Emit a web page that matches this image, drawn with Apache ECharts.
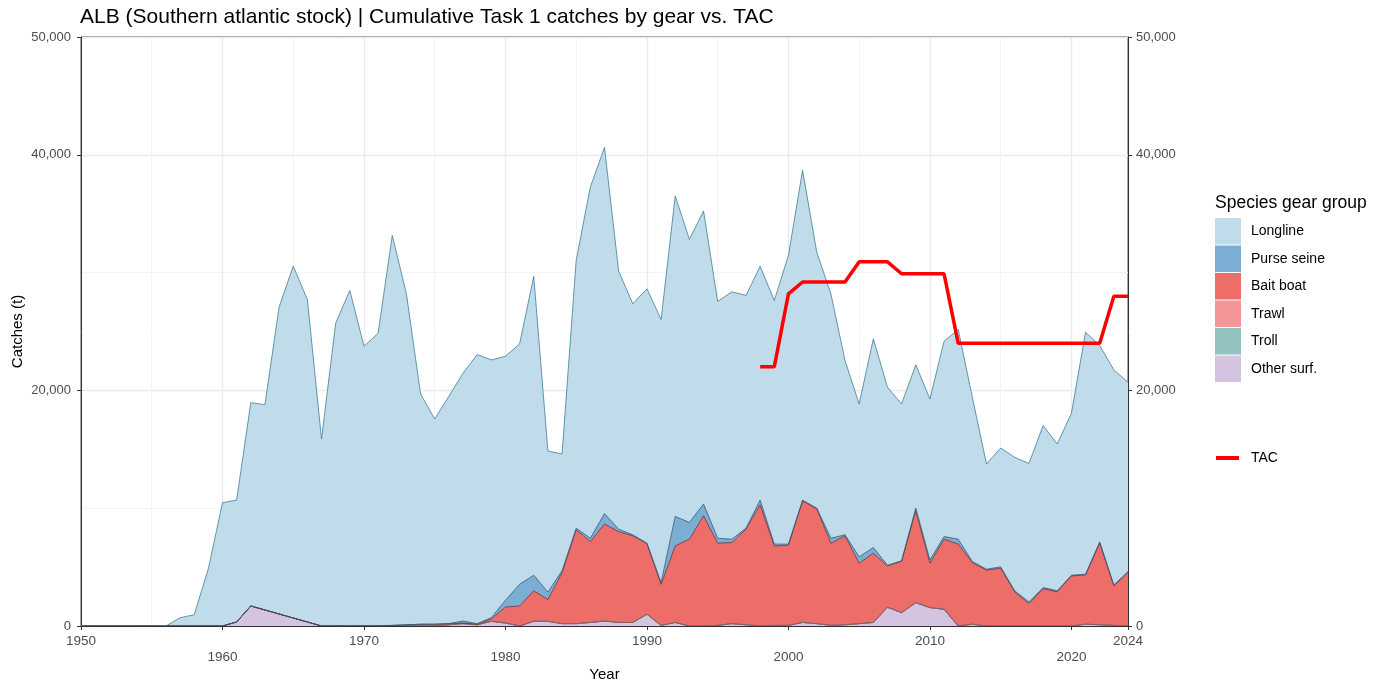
<!DOCTYPE html>
<html lang="en">
<head>
  <meta charset="UTF-8">
  <title>ALB (Southern atlantic stock) | Cumulative Task 1 catches by gear vs. TAC</title>
  <script src="https://cdn.jsdelivr.net/npm/echarts@6/dist/echarts.min.js"></script>
  <style>
    html, body { margin: 0; padding: 0; background: #fff; }
    #chart { width: 1385px; height: 692px; }
  </style>
</head>
<body>
  <div id="chart"></div>
  <script>
    // years on the x axis
    const years = [
      1950, 1951, 1952, 1953, 1954, 1955, 1956, 1957, 1958, 1959,
      1960, 1961, 1962, 1963, 1964, 1965, 1966, 1967, 1968, 1969,
      1970, 1971, 1972, 1973, 1974, 1975, 1976, 1977, 1978, 1979,
      1980, 1981, 1982, 1983, 1984, 1985, 1986, 1987, 1988, 1989,
      1990, 1991, 1992, 1993, 1994, 1995, 1996, 1997, 1998, 1999,
      2000, 2001, 2002, 2003, 2004, 2005, 2006, 2007, 2008, 2009,
      2010, 2011, 2012, 2013, 2014, 2015, 2016, 2017, 2018, 2019,
      2020, 2021, 2022, 2023, 2024
    ];

    // catches (t) by gear
    const longline = [
      0, 0, 0, 0, 0, 0, 0, 700, 960, 4850,
      10460, 10350, 17260, 17430, 26050, 29870, 27380, 15870, 25700, 28490,
      23750, 24850, 33110, 28100, 19550, 17420, 19300, 21025, 22840, 21880,
      20720, 20410, 25370, 11970, 9900, 22740, 29820, 31070, 21910, 19610,
      21600, 22340, 27200, 24030, 24880, 20100, 21000, 19760, 19840, 20680,
      24510, 28000, 21730, 20750, 14790, 12980, 17720, 15110, 13320, 12160,
      13660, 16580, 17800, 13940, 8930, 10090, 11330, 11760, 13750, 12450,
      13740, 20540, 16670, 18250, 16070
    ];
    const purseSeine = [
      0, 0, 0, 0, 0, 0, 0, 0, 0, 0,
      0, 0, 0, 0, 0, 0, 0, 0, 0, 0,
      0, 0, 0, 0, 0, 0, 0, 175, 50, 110,
      570, 1840, 1330, 630, 170, 140, 280, 900, 200, 90,
      40, 140, 2500, 1420, 1000, 420, 280, 80, 400, 150,
      90, 90, 60, 420, 90, 540, 480, 60, 30, 230,
      280, 220, 420, 80, 80, 120, 90, 140, 90, 100,
      60, 70, 110, 90, 80
    ];
    const baitBoat = [
      0, 0, 0, 0, 0, 0, 0, 0, 0, 0,
      0, 0, 0, 0, 0, 0, 0, 0, 0, 0,
      0, 0, 50, 100, 150, 150, 100, 50, 50, 200,
      1360, 1700, 2580, 1850, 4330, 7960, 6870, 8230, 7720, 7350,
      5990, 3490, 6500, 7370, 9350, 6980, 6890, 8120, 10290, 6750,
      6810, 10300, 9750, 6980, 7550, 5130, 5880, 3510, 4370, 7800,
      3770, 5950, 6950, 5240, 4740, 4900, 2890, 1900, 3170, 2900,
      4250, 4180, 6930, 3350, 4540
    ];
    const trawl = [
      0, 0, 0, 0, 0, 0, 0, 0, 0, 0,
      0, 0, 0, 0, 0, 0, 0, 0, 0, 0,
      0, 0, 0, 0, 0, 0, 0, 0, 0, 0,
      0, 0, 0, 0, 0, 0, 0, 0, 0, 0,
      0, 0, 0, 0, 0, 0, 0, 0, 0, 0,
      0, 0, 0, 0, 0, 0, 0, 0, 0, 0,
      0, 0, 0, 0, 0, 0, 0, 0, 0, 0,
      0, 0, 0, 0, 0
    ];
    const troll = [
      0, 0, 0, 0, 0, 0, 0, 0, 0, 0,
      0, 0, 0, 0, 0, 0, 0, 0, 0, 0,
      0, 0, 0, 0, 0, 0, 0, 0, 0, 0,
      0, 0, 0, 0, 0, 0, 0, 0, 0, 0,
      0, 0, 0, 0, 0, 0, 0, 0, 0, 0,
      0, 0, 0, 0, 0, 0, 0, 0, 0, 0,
      0, 0, 0, 0, 0, 0, 0, 0, 0, 0,
      0, 0, 0, 0, 0
    ];
    const otherSurf = [
      0, 0, 0, 0, 0, 0, 0, 0, 0, 0,
      0, 340, 1700, 1360, 1020, 680, 340, 0, 0, 0,
      0, 0, 0, 0, 0, 0, 100, 200, 100, 400,
      250, 0, 400, 400, 200, 200, 300, 420, 300, 300,
      1000, 50, 300, 0, 0, 50, 200, 100, 0, 50,
      50, 300, 200, 50, 100, 200, 300, 1590, 1130, 1980,
      1560, 1420, 0, 150, 0, 0, 0, 0, 0, 0,
      0, 150, 100, 50, 0
    ];

    // total allowable catch
    const tacYears = [
      1998, 1999, 2000, 2001, 2002, 2003, 2004, 2005, 2006, 2007,
      2008, 2009, 2010, 2011, 2012, 2013, 2014, 2015, 2016, 2017,
      2018, 2019, 2020, 2021, 2022, 2023, 2024
    ];
    const tacValues = [
      22000, 22000, 28200, 29200, 29200, 29200, 29200, 30915, 30915, 30915,
      29900, 29900, 29900, 29900, 24000, 24000, 24000, 24000, 24000, 24000,
      24000, 24000, 24000, 24000, 24000, 28000, 28000
    ];

    // bottom-to-top stacking order
    const gears = [
      { name: 'Other surf.', values: otherSurf, fill: '#D4C4E0', line: '#76598C' },
      { name: 'Troll', values: troll, fill: '#93C3BF', line: '#4E8580' },
      { name: 'Trawl', values: trawl, fill: '#F49698', line: '#A05556' },
      { name: 'Bait boat', values: baitBoat, fill: '#ED6E69', line: '#6E2B2E' },
      { name: 'Purse seine', values: purseSeine, fill: '#7BAED2', line: '#2A5679' },
      { name: 'Longline', values: longline, fill: '#C0DCEA', line: '#3F7D9C' }
    ];

    const font = '"Liberation Sans", Arial, sans-serif';
    const chart = echarts.init(document.getElementById('chart'));

    // labelled years: every decade plus the last year
    const isMajor = (idx, val) => (+val % 10 === 0) || (+val === 2024);

    const series = gears.map(g => ({
      name: g.name,
      type: 'line',
      stack: 'catch',
      data: g.values,
      showSymbol: false,
      symbol: 'none',
      color: g.fill,
      lineStyle: { color: g.line, width: 0.8 },
      areaStyle: { color: g.fill, opacity: 1 },
      emphasis: { disabled: true },
      z: 2
    }));

    series.push({
      name: 'TAC',
      type: 'line',
      data: tacYears.map((y, i) => [String(y), tacValues[i]]),
      showSymbol: false,
      symbol: 'none',
      color: '#FF0000',
      lineStyle: { color: '#FF0000', width: 3.5 },
      emphasis: { disabled: true },
      z: 5
    });

    const yAxisBase = {
      type: 'value',
      min: 0,
      max: 50000,
      interval: 20000,
      axisLine: { show: true, lineStyle: { color: '#333', width: 1 } },
      axisTick: { show: true, length: 4, lineStyle: { color: '#333' } },
      axisLabel: { fontFamily: font, fontSize: 13, color: '#4D4D4D', margin: 10 }
    };

    const option = {
      backgroundColor: '#ffffff',
      animation: false,
      textStyle: { fontFamily: font },
      title: {
        text: 'ALB (Southern atlantic stock) | Cumulative Task 1 catches by gear vs. TAC',
        left: 75,
        top: 2,
        textStyle: { fontFamily: font, fontSize: 21, fontWeight: 'normal', color: '#000' }
      },
      grid: {
        left: 81,
        right: 257,
        top: 37,
        bottom: 66,
        outerBoundsMode: 'none',
        show: true,
        borderColor: '#333',
        borderWidth: 1,
        backgroundColor: 'transparent'
      },
      legend: [
        {
          orient: 'vertical',
          left: 1210,
          top: 213,
          itemWidth: 26,
          itemHeight: 26.5,
          itemGap: 1,
          icon: 'rect',
          selectedMode: false,
          itemStyle: { borderWidth: 0 },
          textStyle: { fontFamily: font, fontSize: 14, color: '#000', padding: [0, 0, 0, 5] },
          data: gears.slice().reverse().map(g => ({ name: g.name, itemStyle: { color: g.fill, borderWidth: 0 } }))
        },
        {
          orient: 'vertical',
          left: 1211,
          top: 446,
          itemWidth: 23,
          itemHeight: 4,
          icon: 'rect',
          selectedMode: false,
          itemStyle: { borderWidth: 0 },
          textStyle: { fontFamily: font, fontSize: 14, color: '#000', padding: [0, 0, 0, 7] },
          data: [{ name: 'TAC', itemStyle: { color: '#FF0000', borderWidth: 0 } }]
        }
      ],
      graphic: [
        {
          type: 'text',
          left: 1215,
          top: 194,
          style: { text: 'Species gear group', font: '17.5px ' + font, fill: '#000' }
        }
      ],
      xAxis: [
        {
          type: 'category',
          data: years.map(String),
          boundaryGap: false,
          name: 'Year',
          nameLocation: 'middle',
          nameGap: 41,
          nameMoveOverlap: false,
          nameTextStyle: { fontFamily: font, fontSize: 15, color: '#000' },
          axisLine: { show: true, onZero: false, lineStyle: { color: '#333', width: 1 } },
          axisTick: { show: true, length: 4, interval: isMajor, lineStyle: { color: '#333' } },
          axisLabel: {
            interval: isMajor,
            fontFamily: font,
            fontSize: 13.5,
            color: '#4D4D4D',
            margin: 7,
            lineHeight: 16.5,
            formatter: v => (+v % 20 === 0 ? '\n' + v : v)
          },
          splitLine: { show: false },
          z: 3
        },
        {
          // grid lines only (majors each decade, minors in between)
          type: 'value',
          min: 1950,
          max: 2024,
          interval: 10,
          position: 'bottom',
          axisLine: { show: false },
          axisTick: { show: false },
          axisLabel: { show: false },
          splitLine: { show: true, lineStyle: { color: '#EBEBEB', width: 1.4 } },
          minorTick: { show: false, splitNumber: 2 },
          minorSplitLine: { show: true, lineStyle: { color: '#F3F3F3', width: 1 } }
        }
      ],
      yAxis: [
        Object.assign({}, yAxisBase, {
          position: 'left',
          name: 'Catches (t)',
          nameLocation: 'middle',
          nameGap: 56,
          nameMoveOverlap: false,
          nameTextStyle: { fontFamily: font, fontSize: 15, color: '#000' },
          splitLine: { show: true, lineStyle: { color: '#EBEBEB', width: 1.4 } },
          minorTick: { show: false, splitNumber: 2 },
          minorSplitLine: { show: true, lineStyle: { color: '#F3F3F3', width: 1 } }
        }),
        Object.assign({}, yAxisBase, {
          position: 'right',
          axisLabel: { fontFamily: font, fontSize: 13, color: '#4D4D4D', margin: 8 },
          splitLine: { show: false }
        })
      ],
      series: series
    };

    chart.setOption(option);
    window.addEventListener('resize', () => chart.resize());
  </script>
</body>
</html>
